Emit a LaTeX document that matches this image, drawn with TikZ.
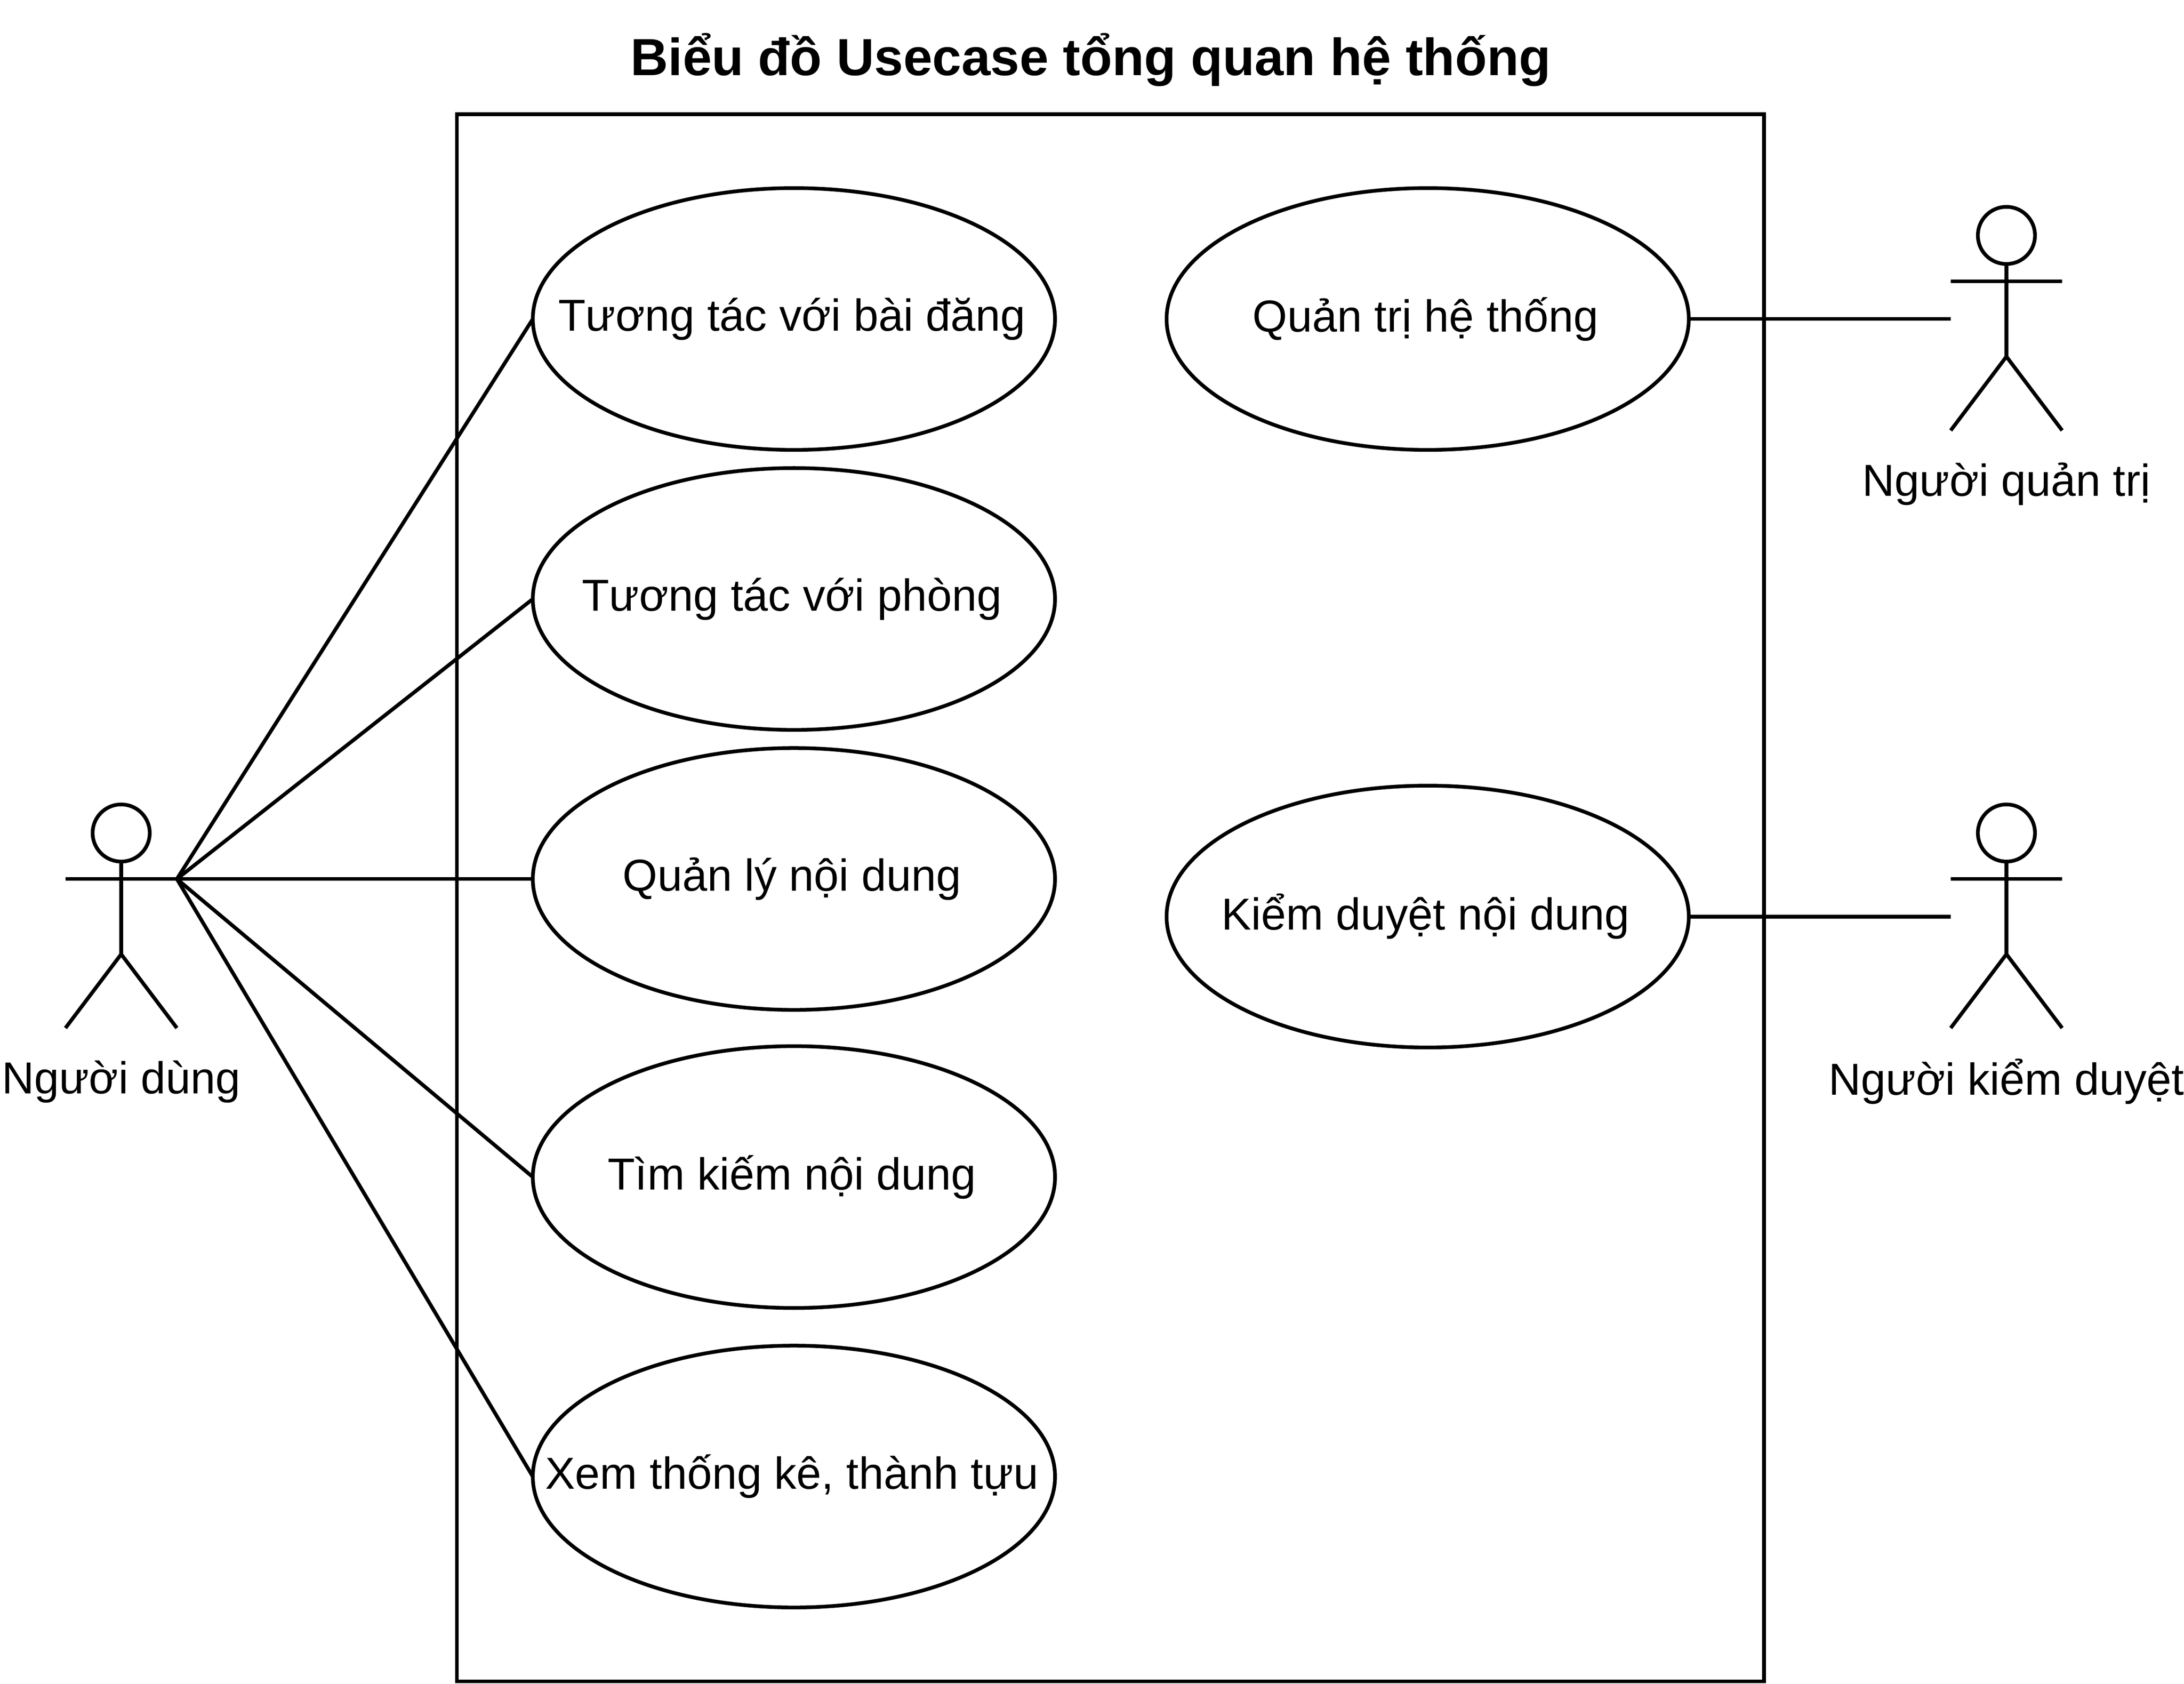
\documentclass[tikz,border=0pt]{standalone}
\usepackage{fontspec}
\setmainfont{Liberation Sans}
\usetikzlibrary{shapes.geometric}

\newcommand{\uclabel}[1]{\makebox[0pt]{\kern-1.7pt\raisebox{-1.6pt}{#1}}}
\tikzset{
	line/.style={line width=1.52pt},
	usecase/.style={ellipse, draw, line, minimum width=7.5cm, minimum height=3.76cm, inner sep=0pt, outer sep=0pt, font=\fontsize{18.3}{22}\selectfont},
	actorname/.style={font=\fontsize{18.3}{22}\selectfont, inner sep=0pt},
	pics/actor/.style={code={
		\draw[line] (0,-33) circle [radius=20.5];
		\draw[line] (0,-12.5) -- (0,54);
		\draw[line] (-40,0) -- (40,0);
		\draw[line] (-40,107) -- (0,54) -- (40,107);
		\coordinate (-hand) at (40,0);
		\coordinate (-side) at (-40,27);
		\node[actorname] (-name) at (0,145.5) {#1};
	}}
}

\begin{document}
\begin{tikzpicture}[x=0.02cm, y=-0.02cm]
	\useasboundingbox (0,0) rectangle (1568,1208.8);
	% title and system box
	\node[font=\bfseries\fontsize{21.35}{26}\selectfont, inner sep=0pt] (title) at (783,43) {Biểu đồ Usecase tổng quan hệ thống};
	\draw[line] (328,82) rectangle (1266.5,1207);
	% use cases
	\node[usecase] (ucPost) at (570,229) {\uclabel{Tương tác với bài đăng}};
	\node[usecase] (ucRoom) at (570,430) {\uclabel{Tương tác với phòng}};
	\node[usecase] (ucContent) at (570,631) {\uclabel{Quản lý nội dung}};
	\node[usecase] (ucSearch) at (570,845) {\uclabel{Tìm kiếm nội dung}};
	\node[usecase] (ucStats) at (570,1060) {\uclabel{Xem thống kê, thành tựu}};
	\node[usecase] (ucAdmin) at (1025,229) {\uclabel{Quản trị hệ thống}};
	\node[usecase] (ucReview) at (1025,658) {\uclabel{Kiểm duyệt nội dung}};
	% actors
	\pic (actUser) at (87,631) {actor={Người dùng}};
	\pic (actAdmin) at (1440.5,202) {actor={Người quản trị}};
	\pic (actReview) at (1440.5,631) {actor={Người kiểm duyệt}};
	% connectors
	\foreach \uc in {ucPost, ucRoom, ucContent, ucSearch, ucStats}
		\draw[line] (actUser-hand) -- (\uc.west);
	\draw[line] (ucAdmin.east) -- (actAdmin-side);
	\draw[line] (ucReview.east) -- (actReview-side);
\end{tikzpicture}
\end{document}
